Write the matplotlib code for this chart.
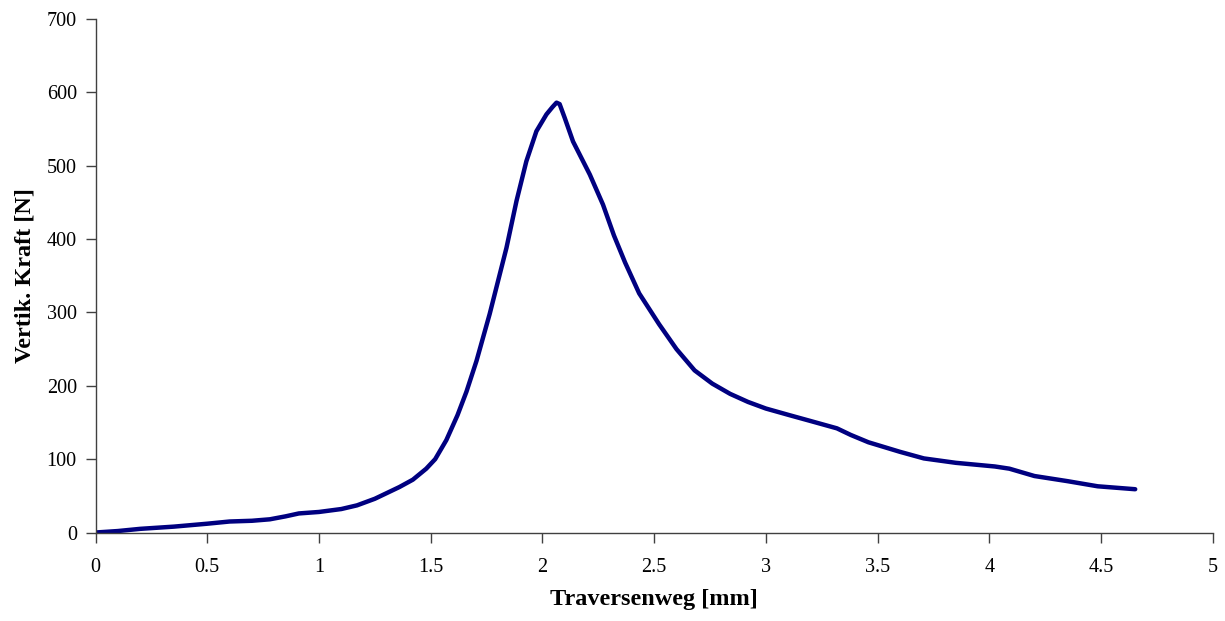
import numpy as np
import matplotlib.pyplot as plt

weg = [0.0, 0.1, 0.2, 0.35, 0.5, 0.6, 0.7, 0.78, 0.85, 0.91, 1.0, 1.1, 1.17,
       1.25, 1.36, 1.42, 1.48, 1.52, 1.57, 1.62, 1.66, 1.705, 1.764, 1.809,
       1.839, 1.884, 1.928, 1.973, 2.018, 2.045, 2.063, 2.077, 2.1, 2.137,
       2.212, 2.271, 2.32, 2.37, 2.433, 2.522, 2.6, 2.681, 2.76, 2.84,
       2.92, 3.0, 3.105, 3.2, 3.318, 3.38, 3.459, 3.6, 3.707, 3.85, 4.025,
       4.09, 4.202, 4.35, 4.485, 4.653]
kraft = [0, 2, 5, 8, 12, 15, 16, 18, 22, 26, 28, 32, 37,
         46, 62, 72, 87, 100, 126, 160, 192, 234, 298, 352,
         388, 452, 506, 547, 570, 580, 586, 584, 565, 533,
         488, 447, 405, 368, 326, 284, 250, 221, 203, 189,
         178, 169, 160, 152, 142, 133, 123, 110, 101, 95, 90,
         87, 77, 70, 63, 59]

x_ticks = [0, 0.5, 1, 1.5, 2, 2.5, 3, 3.5, 4, 4.5, 5]
x_tick_labels = ['0', '0.5', '1', '1.5', '2', '2.5', '3', '3.5', '4', '4.5', '5']
y_ticks = [0, 100, 200, 300, 400, 500, 600, 700]

plt.rcParams['font.family'] = ['Liberation Serif', 'DejaVu Serif']

fig = plt.figure(figsize=(12.25, 6.21), dpi=100)
ax = fig.add_axes([0.078, 0.1425, 0.912, 0.8269])

ax.plot(weg, kraft, color='#000080', linewidth=3.2,
        solid_capstyle='round', solid_joinstyle='round')

ax.set_xlim(0, 5)
ax.set_ylim(0, 700)
ax.set_xticks(x_ticks)
ax.set_xticklabels(x_tick_labels)
ax.set_yticks(y_ticks)

for side in ['top', 'right']:
    ax.spines[side].set_visible(False)
for side in ['left', 'bottom']:
    ax.spines[side].set_color('#404040')
    ax.spines[side].set_linewidth(1)

ax.tick_params(direction='out', length=7, width=1, color='#404040',
               labelsize=14.5)
ax.tick_params(axis='x', pad=11)
ax.tick_params(axis='y', pad=6.5)

ax.set_xlabel('Traversenweg [mm]', fontsize=17.5, fontweight='bold', labelpad=9)
ax.set_ylabel('Vertik. Kraft [N]', fontsize=17.5, fontweight='bold', labelpad=8)

fig.savefig('out.png', dpi=100)
